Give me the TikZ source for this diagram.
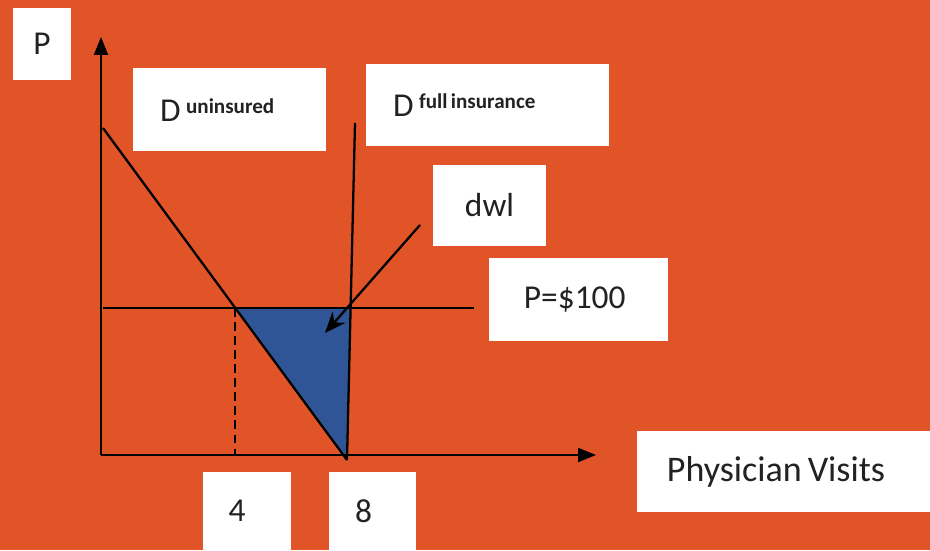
\documentclass[tikz,border=0pt]{standalone}
\usepackage{fontspec}
\setmainfont{Carlito}
\usetikzlibrary{arrows.meta}
\definecolor{slide}{HTML}{E05427}
\definecolor{dwlblue}{HTML}{2F5597}
\definecolor{ink}{HTML}{222222}
\tikzset{
  whitebox/.style={fill=white, inner sep=0pt, text=ink, font=\fontsize{19}{22}\selectfont},
  curve/.style={line width=1.3pt, black},
}
\newcommand{\dsup}[1]{\raisebox{0.55ex}{\fontsize{12}{13}\selectfont\bfseries #1}}

\begin{document}
\begin{tikzpicture}
            \useasboundingbox (0,0) rectangle (18.6,11);
            \fill[slide] (0,0) rectangle (18.6,11);

            % boxes
            \node[whitebox, minimum width=1.16cm, minimum height=1.44cm] (pbox) at (0.84,10.12) {P};
            \node[whitebox, minimum width=3.86cm, minimum height=1.66cm, inner xsep=0.54cm, text width=2.78cm, align=left] (dunins) at (4.59,8.8) {D\,\dsup{uninsured}};
            \node[whitebox, minimum width=4.86cm, minimum height=1.64cm, inner xsep=0.54cm, text width=3.78cm, align=left] (dfull) at (9.75,8.9) {D\,\dsup{full\,insurance}};
            \node[whitebox, minimum width=2.26cm, minimum height=1.62cm] (dwl) at (9.79,6.89) {dwl};
            \node[whitebox, minimum width=3.58cm, minimum height=1.66cm] (price) at (11.57,5.01) {P=\$100\kern0.15cm};
            \node[whitebox, minimum width=5.86cm, minimum height=1.62cm, font=\fontsize{20.5}{22}\selectfont] (visits) at (15.67,1.57) {Physician\,Visits\kern0.3cm};
            \node[whitebox, minimum width=1.76cm, minimum height=1.56cm] (four) at (4.94,0.78) {4\kern0.4cm};
            \node[whitebox, minimum width=1.74cm, minimum height=1.56cm] (eight) at (7.45,0.78) {8\kern0.36cm};

            \coordinate (o) at (2.02,1.9);
            \coordinate (ytop) at (2.02,10.26);
            \coordinate (xend) at (11.92,1.9);
            \coordinate (dtop) at (2.06,8.44);
            \coordinate (dbot) at (6.94,1.8);
            \coordinate (ftop) at (7.1,8.54);
            \coordinate (a) at (4.706,4.84);
            \coordinate (b) at (7.012,4.84);
            \coordinate (pend) at (9.48,4.84);
            \coordinate (pstart) at (2.06,4.84);
            \coordinate (tail) at (8.4,6.5);
            \coordinate (head) at (6.5,4.34);

            % deadweight loss
            \fill[dwlblue] (a) -- (b) -- (dbot) -- cycle;

            \draw[curve, -{Triangle[length=0.36cm,width=0.28cm]}] (o) -- (ytop);
            \draw[curve, -{Triangle[length=0.36cm,width=0.28cm]}] (o) -- (xend);
            \draw[curve] (dtop) -- (dbot);
            \draw[curve] (ftop) -- (dbot);
            \draw[curve] (pstart) -- (pend);
            \draw[curve, dash pattern=on 5pt off 3pt] (a) -- (a |- o);
            \draw[curve, -{Stealth[length=0.42cm,width=0.34cm]}] (tail) -- (head);
        \end{tikzpicture}
\end{document}
